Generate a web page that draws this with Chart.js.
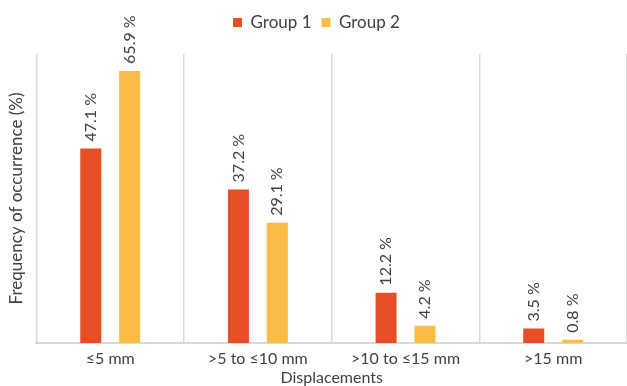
<!DOCTYPE html>
<html>
<head>
<meta charset="utf-8">
<script src="https://cdn.jsdelivr.net/npm/chart.js@4"></script>
<style>
  html, body { margin: 0; padding: 0; background: #fff; }
  #wrap { width: 627px; height: 386px; }
</style>
</head>
<body>
<div id="wrap"><canvas id="chart"></canvas></div>
<script>
const categories = ['≤5 mm', '>5 to ≤10 mm', '>10 to ≤15 mm', '>15 mm'];
const group1 = [47.1, 37.2, 12.2, 3.5];
const group2 = [65.9, 29.1, 4.2, 0.8];

const textColor = '#404040';
const gridColor = '#d9d9d9';

// rotated value labels above every bar
const barLabels = {
    id: 'barLabels',
    afterDatasetsDraw(chart) {
        const ctx = chart.ctx;
        ctx.save();
        ctx.font = '16px Lato';
        ctx.fillStyle = textColor;
        ctx.textAlign = 'left';
        ctx.textBaseline = 'middle';
        chart.data.datasets.forEach((ds, i) => {
            chart.getDatasetMeta(i).data.forEach((bar, j) => {
                ctx.save();
                ctx.translate(bar.x, bar.y - 7);
                ctx.rotate(-Math.PI / 2);
                ctx.fillText(ds.data[j].toFixed(1) + ' %', 0, 0);
                ctx.restore();
            });
        });
        ctx.restore();
    }
};

// extra room between legend and plot
const legendGap = {
    id: 'legendGap',
    beforeInit(chart) {
        const fit = chart.legend.fit;
        chart.legend.fit = function() {
            fit.bind(chart.legend)();
            this.height += 13;
        };
    }
};

new Chart(document.getElementById('chart'), {
    type: 'bar',
    data: {
        labels: categories,
        datasets: [
            {
                label: 'Group 1',
                data: group1,
                backgroundColor: '#e64e25',
                categoryPercentage: 0.527,
                barPercentage: 0.54,
            },
            {
                label: 'Group 2',
                data: group2,
                backgroundColor: '#fbbb47',
                categoryPercentage: 0.527,
                barPercentage: 0.54,
            },
        ]
    },
    options: {
        responsive: true,
        maintainAspectRatio: false,
        animation: false,
        layout: { padding: { top: 4, left: 6, right: 0, bottom: 0 } },
        plugins: {
            tooltip: { enabled: false },
            legend: {
                position: 'top',
                labels: {
                    boxWidth: 9,
                    boxHeight: 9,
                    padding: 10,
                    color: textColor,
                    font: { family: 'Lato', size: 17 },
                }
            }
        },
        scales: {
            x: {
                grid: { display: true, color: gridColor, lineWidth: 1.5, drawTicks: false, offset: true },
                border: { display: true, color: gridColor, width: 2 },
                ticks: { color: textColor, font: { family: 'Lato', size: 16, lineHeight: 1 }, padding: 8, maxRotation: 0 },
                title: { display: true, text: 'Displacements', color: textColor, font: { family: 'Lato', size: 16, lineHeight: 1 }, padding: { top: -5, bottom: 0 } }
            },
            y: {
                min: 0,
                max: 70,
                grid: { display: false },
                border: { display: false },
                ticks: { display: false },
                title: { display: true, text: 'Frequency of occurrence (%)', color: textColor, font: { family: 'Lato', size: 17 }, padding: { top: 0, bottom: 2 } }
            }
        }
    },
    plugins: [barLabels, legendGap]
});
</script>
</body>
</html>
